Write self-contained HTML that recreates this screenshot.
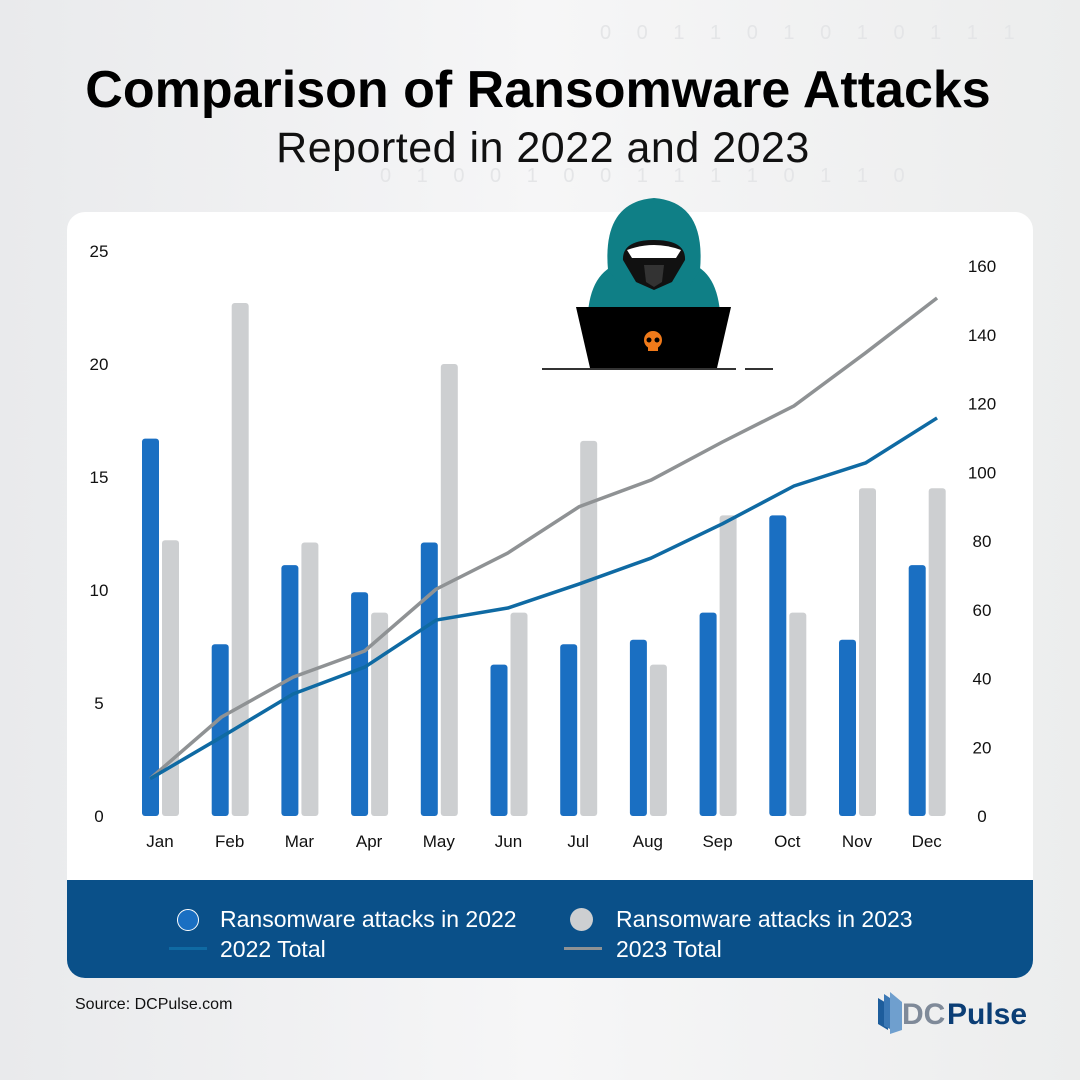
<!DOCTYPE html>
<html><head><meta charset="utf-8">
<style>
html,body{margin:0;padding:0}
body{width:1080px;height:1080px;position:relative;overflow:hidden;font-family:"Liberation Sans",sans-serif;background:linear-gradient(90deg,#e9eaec 0%,#f6f6f7 50%,#eceded 100%)}
.bin{position:absolute;color:#e4e5e7;font-size:20px;letter-spacing:10px;white-space:nowrap}
h1{position:absolute;margin:0;left:0;width:1076px;text-align:center;top:60px;font-size:52px;font-weight:bold;color:#000}
h2{position:absolute;margin:0;left:0;width:1086px;text-align:center;top:124px;font-size:43px;font-weight:normal;color:#111;letter-spacing:0.5px}
#card{position:absolute;left:67px;top:212px;width:966px;height:766px;border-radius:18px;background:#fff;overflow:hidden}
#legend{position:absolute;left:67px;top:880px;width:966px;height:98px;background:#0a5089;border-radius:0 0 18px 18px}
.lg{position:absolute;color:#fff;font-size:23px}
#src{position:absolute;left:75px;top:996px;font-size:16px;color:#111}
#logo{position:absolute;left:878px;top:990px}
</style></head><body>
<div class="bin" style="left:600px;top:22px">0 0 1 1 0 1 0 1 0 1 1 1</div>
<div class="bin" style="left:380px;top:165px">0 1 0 0 1 0 0 1 1 1 1 0 1 1 0</div>
<h1>Comparison of Ransomware Attacks</h1>
<h2>Reported in 2022 and 2023</h2>
<div id="card"></div>
<svg id="chart" width="1080" height="1080" style="position:absolute;left:0;top:0"></svg>
<div id="legend">
 <div style="position:absolute;left:110px;top:29px;width:20px;height:20px;border-radius:50%;background:#1a6fc2;border:1px solid #fff"></div>
 <div class="lg" style="left:153px;top:26px">Ransomware attacks in 2022</div>
 <div style="position:absolute;left:102px;top:67px;width:38px;height:3px;background:#0f6aa3"></div>
 <div class="lg" style="left:153px;top:56px">2022 Total</div>
 <div style="position:absolute;left:503px;top:28px;width:23px;height:23px;border-radius:50%;background:#cdcfd1"></div>
 <div class="lg" style="left:549px;top:26px">Ransomware attacks in 2023</div>
 <div style="position:absolute;left:497px;top:67px;width:38px;height:3px;background:#8f9294"></div>
 <div class="lg" style="left:549px;top:56px">2023 Total</div>
</div>
<div id="src">Source: DCPulse.com</div>
<svg id="logo" width="150" height="46">
 <polygon points="0,8 10,14 10,40 0,34" fill="#1d5d9c"/><polygon points="6,4 18,12 18,42 6,36" fill="#3b78b5"/><polygon points="12,2 24,12 24,40 12,44" fill="#6f9fce"/>
 <text x="24" y="34" font-size="30" font-weight="bold" font-family="Liberation Sans" fill="#7f8a99">DC</text>
 <text x="69" y="34" font-size="30" font-weight="bold" font-family="Liberation Sans" fill="#0b3e75">Pulse</text>
</svg>
<script>
const months=["Jan","Feb","Mar","Apr","May","Jun","Jul","Aug","Sep","Oct","Nov","Dec"];
const attacks2022=[16.7,7.6,11.1,9.9,12.1,6.7,7.6,7.8,9.0,13.3,7.8,11.1];
const attacks2023=[12.2,22.7,12.1,9.0,20.0,9.0,16.6,6.7,13.3,9.0,14.5,14.5];
const total2022=[10.8,23,35.5,43.3,57,60.5,67.5,75,85,96,102.7,115.8];
const total2023=[10.8,28.8,40.4,48,66,76.5,90,97.7,108.8,119.3,134.7,150.7];
const leftTicks=[0,5,10,15,20,25];
const rightTicks=[0,20,40,60,80,100,120,140,160];
const NS="http://www.w3.org/2000/svg";
const svg=document.getElementById('chart');
const yL=v=>816-v*22.6, yR=v=>816-v*3.4375, xC=i=>160+i*69.7, xLine=i=>150+i*71.55;
function el(t,a){const e=document.createElementNS(NS,t);for(const k in a)e.setAttribute(k,a[k]);svg.appendChild(e);return e;}
function txt(x,y,s,anchor){const t=el('text',{x:x,y:y,'font-size':17,'font-family':'Liberation Sans','fill':'#111','text-anchor':anchor});t.textContent=s;return t;}
leftTicks.forEach(v=>{const t=txt(99,yL(v)+6,v,'middle');

});
rightTicks.forEach(v=>{const t=txt(982,yR(v)+6,v,'middle');

});
months.forEach((m,i)=>{const t=txt(xC(i),847,m,'middle');


const b1=el('rect',{x:xC(i)-18,y:yL(attacks2022[i]),width:17,height:yL(0)-yL(attacks2022[i]),rx:3,fill:'#1a6fc2'});


const b2=el('rect',{x:xC(i)+2,y:yL(attacks2023[i]),width:17,height:yL(0)-yL(attacks2023[i]),rx:3,fill:'#cdcfd1'});

});
function line(d,c,n){const l=el('polyline',{points:d.map((v,i)=>xLine(i)+','+yR(v)).join(' '),fill:'none',stroke:c,'stroke-width':3.5,'stroke-linejoin':'round'});

}
line(total2023,'#8f9294','line-2023-total');
line(total2022,'#0f6aa3','line-2022-total');
const g=document.createElementNS(NS,'g');svg.appendChild(g);


g.innerHTML='<path d="M588,312 Q592,268 625,262 L685,262 Q716,268 720,312 Z" fill="#0f7f86"/>'+
'<path d="M608,270 Q602,202 654,198 Q706,202 700,270 L690,285 L620,285 Z" fill="#0f7f86"/>'+
'<path d="M623,260 Q622,240 654,240 Q686,240 685,260 L672,282 L654,290 L636,282 Z" fill="#111"/>'+
'<path d="M627,250 Q654,240 681,250 L676,258 L632,258 Z" fill="#fff"/>'+
'<path d="M644,265 L664,265 L662,282 L654,287 L646,282 Z" fill="#333"/>'+
'<path d="M576,307 L731,307 L717,368 L590,368 Z" fill="#000"/>'+
'<circle cx="653" cy="340" r="9" fill="#f07a1a"/><rect x="648" y="345" width="10" height="6" fill="#f07a1a"/>'+
'<circle cx="649" cy="340" r="2.5" fill="#000"/><circle cx="657" cy="340" r="2.5" fill="#000"/>'+
'<rect x="542" y="368" width="194" height="2" fill="#333"/><rect x="745" y="368" width="28" height="2" fill="#333"/>';
</script>
</body></html>
